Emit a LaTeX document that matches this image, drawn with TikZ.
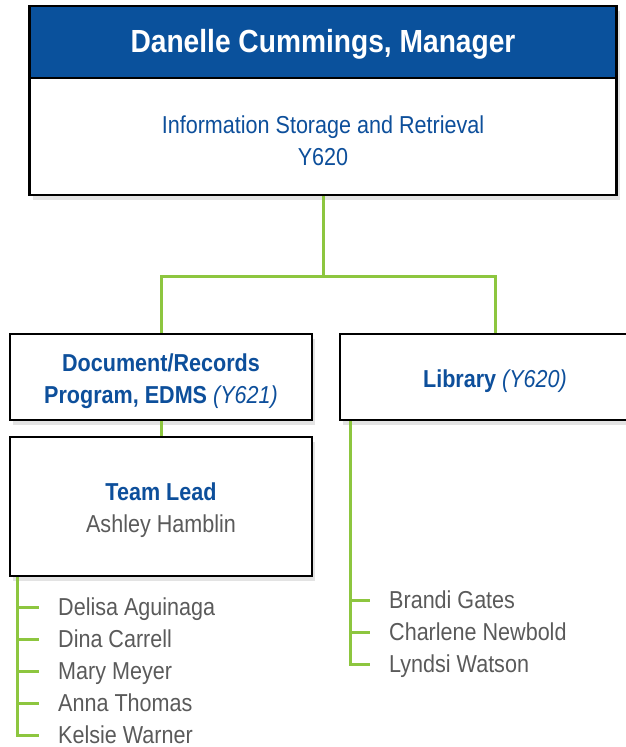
\documentclass[tikz,border=0pt]{standalone}
\usepackage{fontspec}
\setmainfont{Liberation Sans}[FakeStretch=0.88]
\usetikzlibrary{shadows}
\definecolor{hdrblue}{HTML}{0A519C}
\definecolor{txtblue}{HTML}{0D4F9B}
\definecolor{namegray}{HTML}{5A5A5A}
\definecolor{linegreen}{HTML}{8DC63F}
\tikzset{
  box/.style={draw=black, line width=2.4pt, fill=white, inner sep=0pt,
    drop shadow={opacity=0.22, shadow xshift=3pt, shadow yshift=-5pt}},
  boxtext/.style={inner sep=0pt, align=center, text=txtblue, font=\fontsize{24.5}{32}\selectfont},
  branch/.style={linegreen, line width=3pt},
  person/.style={anchor=west, inner sep=0pt, text height=17pt, text depth=0pt,
    text=namegray, font=\fontsize{24.5}{32}\selectfont},
}

\begin{document}
\begin{tikzpicture}[x=1pt,y=-1pt]
\useasboundingbox (0,0) rectangle (626,747);
\clip (0,0) rectangle (626,747);
% manager
\node [box, fill=hdrblue, minimum width=587pt, minimum height=72pt] (hdr) at (323,42) {};
\node [box, minimum width=587pt, minimum height=117pt] (info) at (323,136.5) {};
\node [boxtext, text=white, font=\fontsize{32}{38}\selectfont\bfseries] (hdrtext)
  at ([yshift=-2pt]hdr.center) {Danelle Cummings, Manager};
\node [boxtext] (infotext) at ([yshift=-4pt]info.center) {Information Storage and Retrieval\\Y620};
% groups
\node [box, minimum width=302pt, minimum height=86pt] (doc) at (161,377) {};
\node [box, minimum width=310pt, minimum height=86pt] (lib) at (495,377) {};
\node [box, minimum width=302pt, minimum height=139pt] (team) at (161,506.5) {};
\node [boxtext, font=\fontsize{24.5}{32}\selectfont\bfseries] (doctext) at ([yshift=-4pt]doc.center)
  {Document/Records\\Program, EDMS {\mdseries\itshape (Y621)}};
\node [boxtext, font=\fontsize{24.5}{32}\selectfont\bfseries] (libtext) at ([yshift=-4pt]lib.center)
  {Library {\mdseries\itshape (Y620)}};
\node [boxtext] (teamtext) at ([yshift=-4pt]team.center)
  {\textbf{Team Lead}\\{\color{namegray}Ashley Hamblin}};
\path (info.south) ++(0,80) coordinate (split);
\draw [branch] (info.south) -- (split);
\draw [branch] (doc.north) |- (split) -| (lib.north);
\draw [branch] (doc.south) -- (team.north);
% staff
\coordinate (spineL) at ([xshift=9pt]team.south west);
\coordinate (spineR) at ([xshift=12pt]lib.south west);
\foreach \who [count=\i] in {Delisa Aguinaga, Dina Carrell, Mary Meyer, Anna Thomas, Kelsie Warner}
  \node [person] (left\i) at (58,575+32*\i) {\who};
\foreach \who [count=\i] in {Brandi Gates, Charlene Newbold, Lyndsi Watson}
  \node [person] (right\i) at (389,568+32*\i) {\who};
\draw [branch] (spineL) |- ([xshift=-19pt]left5.west);
\foreach \i in {1,...,4}
  \draw [branch] (spineL |- left\i.west) -- ([xshift=-19pt]left\i.west);
\draw [branch] (spineR) |- ([xshift=-19pt]right3.west);
\foreach \i in {1,2}
  \draw [branch] (spineR |- right\i.west) -- ([xshift=-19pt]right\i.west);
\end{tikzpicture}
\end{document}
